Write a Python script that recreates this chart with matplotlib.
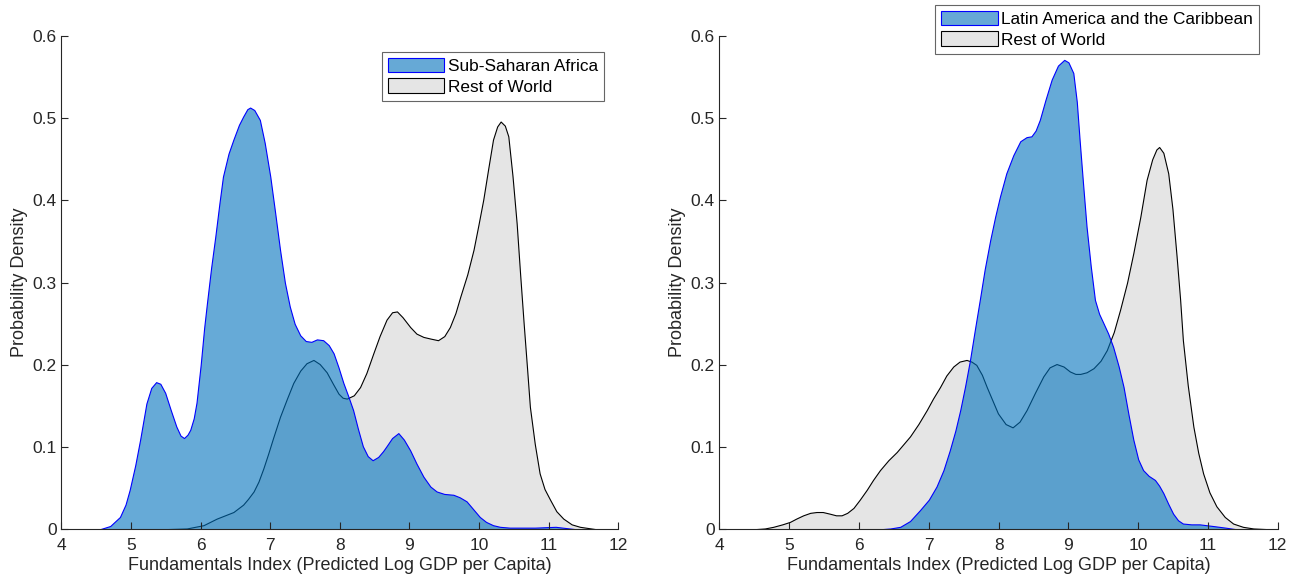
import numpy as np
import matplotlib.pyplot as plt

plt.rcParams['font.family'] = ['Liberation Sans', 'DejaVu Sans']

# kernel density estimates of the fundamentals index, read off at the knots below
ssa_x = [4.55, 4.70, 4.84, 4.92, 4.98, 5.06, 5.13, 5.22, 5.29, 5.36, 5.42, 5.49,
         5.57, 5.65, 5.71, 5.76, 5.81, 5.85, 5.90, 5.94, 6.00, 6.05, 6.09, 6.15,
         6.21, 6.27, 6.32, 6.40, 6.47, 6.55, 6.61, 6.67, 6.71, 6.77, 6.85, 6.92,
         7.00, 7.07, 7.14, 7.21, 7.28, 7.35, 7.43, 7.51, 7.59, 7.67, 7.76, 7.84,
         7.91, 7.98, 8.05, 8.12, 8.19, 8.26, 8.33, 8.40, 8.47, 8.55, 8.62, 8.67,
         8.75, 8.84, 8.92, 9.01, 9.10, 9.20, 9.30, 9.39, 9.50, 9.63, 9.72, 9.82,
         9.92, 10.01, 10.10, 10.20, 10.30, 10.44, 10.80, 11.10, 11.40]
ssa_y = [0.0, 0.004, 0.015, 0.030, 0.048, 0.078, 0.109, 0.153, 0.172, 0.179, 0.177, 0.166,
         0.145, 0.125, 0.114, 0.111, 0.115, 0.121, 0.135, 0.154, 0.200, 0.245, 0.275, 0.318,
         0.356, 0.397, 0.429, 0.457, 0.474, 0.492, 0.502, 0.511, 0.513, 0.510, 0.498, 0.470,
         0.429, 0.385, 0.340, 0.300, 0.271, 0.250, 0.236, 0.229, 0.228, 0.231, 0.230, 0.224,
         0.214, 0.197, 0.178, 0.162, 0.145, 0.122, 0.101, 0.089, 0.084, 0.088, 0.095, 0.101,
         0.111, 0.117, 0.109, 0.096, 0.080, 0.064, 0.052, 0.046, 0.043, 0.042, 0.039, 0.034,
         0.024, 0.015, 0.009, 0.005, 0.003, 0.002, 0.002, 0.003, 0.0]

row1_x = [5.42, 5.80, 6.04, 6.23, 6.35, 6.47, 6.61, 6.68, 6.76, 6.83, 6.90, 6.97,
          7.04, 7.14, 7.24, 7.33, 7.43, 7.52, 7.62, 7.71, 7.81, 7.90, 7.98, 8.04,
          8.10, 8.20, 8.29, 8.38, 8.48, 8.57, 8.67, 8.75, 8.82, 8.90, 9.01, 9.10,
          9.20, 9.30, 9.41, 9.50, 9.58, 9.66, 9.73, 9.83, 9.92, 9.99, 10.06, 10.13,
          10.20, 10.26, 10.31, 10.37, 10.42, 10.48, 10.54, 10.59, 10.64, 10.69, 10.73,
          10.80, 10.87, 10.94, 11.02, 11.11, 11.21, 11.33, 11.45, 11.69]
row1_y = [0.0, 0.001, 0.005, 0.013, 0.017, 0.021, 0.030, 0.037, 0.046, 0.058, 0.074, 0.092,
          0.111, 0.137, 0.159, 0.178, 0.193, 0.202, 0.206, 0.201, 0.191, 0.177, 0.165, 0.160,
          0.159, 0.163, 0.173, 0.190, 0.214, 0.235, 0.255, 0.264, 0.265, 0.258, 0.246, 0.238,
          0.234, 0.232, 0.230, 0.235, 0.246, 0.263, 0.283, 0.310, 0.340, 0.370, 0.401, 0.438,
          0.474, 0.490, 0.496, 0.491, 0.478, 0.430, 0.372, 0.310, 0.251, 0.195, 0.149,
          0.104, 0.068, 0.049, 0.036, 0.022, 0.013, 0.006, 0.003, 0.0]

lac_x = [6.30, 6.45, 6.59, 6.73, 6.87, 7.00, 7.11, 7.21, 7.30, 7.38, 7.45, 7.52,
         7.59, 7.66, 7.73, 7.80, 7.88, 7.95, 8.02, 8.11, 8.21, 8.31, 8.40, 8.47,
         8.53, 8.59, 8.67, 8.76, 8.85, 8.94, 9.00, 9.07, 9.12, 9.16, 9.21, 9.26,
         9.32, 9.38, 9.44, 9.50, 9.57, 9.64, 9.72, 9.79, 9.86, 9.93, 10.00, 10.07,
         10.15, 10.24, 10.30, 10.36, 10.43, 10.50, 10.57, 10.64, 10.76, 10.88, 11.07,
         11.25, 11.41]
lac_y = [0.0, 0.001, 0.003, 0.010, 0.023, 0.036, 0.052, 0.072, 0.096, 0.120, 0.145, 0.174,
         0.206, 0.243, 0.279, 0.316, 0.352, 0.380, 0.405, 0.433, 0.455, 0.472, 0.477, 0.478,
         0.485, 0.498, 0.522, 0.547, 0.564, 0.571, 0.568, 0.555, 0.520, 0.474, 0.420, 0.368,
         0.320, 0.279, 0.262, 0.251, 0.238, 0.222, 0.198, 0.173, 0.140, 0.109, 0.085, 0.072,
         0.065, 0.060, 0.053, 0.044, 0.031, 0.019, 0.011, 0.007, 0.006, 0.006, 0.004,
         0.002, 0.0]

row2_x = [4.48, 4.65, 4.77, 4.90, 5.01, 5.10, 5.20, 5.30, 5.39, 5.48, 5.58, 5.67,
          5.75, 5.83, 5.92, 6.01, 6.11, 6.20, 6.30, 6.42, 6.54, 6.63, 6.73, 6.85,
          6.97, 7.06, 7.16, 7.25, 7.35, 7.44, 7.54, 7.61, 7.68, 7.76, 7.83, 7.91,
          7.99, 8.10, 8.20, 8.30, 8.40, 8.52, 8.64, 8.73, 8.83, 8.93, 9.02, 9.10,
          9.17, 9.26, 9.36, 9.46, 9.55, 9.65, 9.74, 9.84, 9.93, 10.03, 10.12, 10.20,
          10.26, 10.30, 10.36, 10.43, 10.49, 10.55, 10.60, 10.64, 10.71, 10.79, 10.86,
          10.93, 11.02, 11.12, 11.24, 11.36, 11.50, 11.65, 11.90]
row2_y = [0.0, 0.001, 0.003, 0.006, 0.009, 0.013, 0.017, 0.020, 0.021, 0.021, 0.019, 0.017,
          0.017, 0.020, 0.026, 0.036, 0.048, 0.060, 0.072, 0.084, 0.094, 0.103, 0.113, 0.128,
          0.145, 0.159, 0.173, 0.187, 0.198, 0.204, 0.206, 0.204, 0.200, 0.188, 0.173, 0.157,
          0.141, 0.128, 0.124, 0.131, 0.145, 0.166, 0.186, 0.197, 0.201, 0.198, 0.192, 0.189,
          0.189, 0.191, 0.196, 0.205, 0.218, 0.240, 0.267, 0.300, 0.336, 0.380, 0.425, 0.450,
          0.462, 0.465, 0.458, 0.433, 0.390, 0.332, 0.280, 0.230, 0.175, 0.125, 0.093,
          0.068, 0.045, 0.028, 0.015, 0.007, 0.003, 0.001, 0.0]

panels = [
    (ssa_x, ssa_y, row1_x, row1_y, 'Sub-Saharan Africa'),
    (lac_x, lac_y, row2_x, row2_y, 'Latin America and the Caribbean'),
]

ax_col = '#262626'
blue_face = (0.0, 0.447, 0.741, 0.6)
grey_face = (0.0, 0.0, 0.0, 0.1)

fig = plt.figure(figsize=(12.97, 5.81), dpi=100)
ax_pos = [[0.0474, 0.089, 0.4293, 0.849],
          [0.5547, 0.089, 0.4305, 0.849]]
leg_anchor = [(604 / 1297, 1 - 52 / 581), (1259 / 1297, 1 - 5 / 581)]

for i, (rx, ry, wx, wy, name) in enumerate(panels):
    ax = fig.add_axes(ax_pos[i])
    # rest of world underneath, region on top
    hw = ax.fill_between(wx, wy, 0, facecolor=grey_face, edgecolor='k', linewidth=0.8)
    hr = ax.fill_between(rx, ry, 0, facecolor=blue_face, edgecolor='b', linewidth=0.8)

    ax.set_xlim(4, 12)
    ax.set_ylim(0, 0.6)
    ax.set_xticks(np.arange(4, 13, 1))
    ax.set_yticks(np.arange(0, 0.61, 0.1))
    ax.set_yticklabels(['0', '0.1', '0.2', '0.3', '0.4', '0.5', '0.6'])
    for s in ['top', 'right']:
        ax.spines[s].set_visible(False)
    for s in ['left', 'bottom']:
        ax.spines[s].set_color(ax_col)
        ax.spines[s].set_linewidth(0.8)
    ax.tick_params(direction='in', length=5, width=0.8, color=ax_col,
                   labelcolor=ax_col, labelsize=12.5)
    ax.tick_params(axis='x', pad=6)
    ax.set_xlabel('Fundamentals Index (Predicted Log GDP per Capita)',
                  fontsize=13, color=ax_col, labelpad=3)
    ax.set_ylabel('Probability Density', fontsize=13, color=ax_col, labelpad=3)

    leg = ax.legend([hr, hw], [name, 'Rest of World'], loc='upper right',
                    bbox_to_anchor=leg_anchor[i], bbox_transform=fig.transFigure,
                    fontsize=12.4, fancybox=False, framealpha=1, edgecolor='#666666',
                    handlelength=3.3, handleheight=0.9, handletextpad=0.2,
                    borderpad=0.35, labelspacing=0.25, borderaxespad=0)
    leg.get_frame().set_linewidth(0.8)
    # solid legend swatches
    leg.legend_handles[0].set_facecolor('#66a9d6')
    leg.legend_handles[1].set_facecolor('#e5e5e5')

fig.savefig('out.png', dpi=100)
